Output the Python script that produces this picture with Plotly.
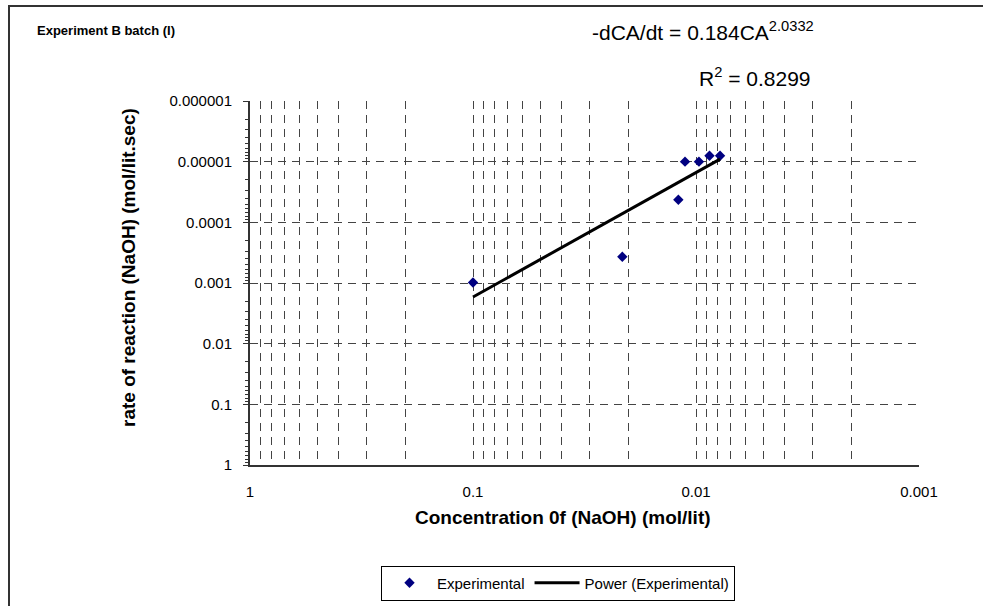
import plotly.graph_objects as go

# ---- data ----
conc = [0.1, 0.0214, 0.0120, 0.0112, 0.0097, 0.0087, 0.0078]
rate = [0.00098, 0.00037, 0.0000424, 0.0000100, 0.0000100, 0.0000080, 0.0000080]
fit_conc = [0.1, 0.0078]
fit_rate = [0.0017, 0.0000091]

x_tickvals = [1, 0.1, 0.01, 0.001]
x_ticktext = ["1", "0.1", "0.01", "0.001"]
y_tickvals = [1, 0.1, 0.01, 0.001, 0.0001, 0.00001, 0.000001]
y_ticktext = ["1", "0.1", "0.01", "0.001", "0.0001", "0.00001", "0.000001"]

W, H = 983, 606
L, R, T, B = 250, 919, 101, 465


def px(x):
    return (x - L) / (R - L)


def py(y):
    return (B - y) / (B - T)


FONT = "Liberation Sans, Arial, sans-serif"
GRID = "#444444"

fig = go.Figure()
fig.add_trace(go.Scatter(
    x=conc, y=rate, mode="markers", name="Experimental",
    marker=dict(symbol="diamond", size=8, color="#000080"),
))
fig.add_trace(go.Scatter(
    x=fit_conc, y=fit_rate, mode="lines", name="Power (Experimental)",
    line=dict(color="black", width=3),
))

fig.update_layout(
    width=W, height=H,
    margin=dict(l=L, r=W - R, t=T, b=H - B, autoexpand=False),
    paper_bgcolor="white", plot_bgcolor="white",
    font=dict(family=FONT, color="black"),
    showlegend=True,
    legend=dict(
        orientation="h", xref="container", yref="container",
        x=558 / W, y=(H - 583) / H, xanchor="center", yanchor="middle",
        bordercolor="black", borderwidth=1, font=dict(size=15, family=FONT),
        itemwidth=45, tracegroupgap=0,
    ),
    xaxis=dict(
        type="log", range=[0, -3], tickvals=x_tickvals, ticktext=x_ticktext,
        tickfont=dict(size=15), showline=True, linecolor="#333333", linewidth=2,
        showgrid=True, gridcolor=GRID, griddash="8px,6px", gridwidth=1,
        minor=dict(dtick="D1", showgrid=True, gridcolor=GRID, griddash="8px,6px", gridwidth=1),
        ticks="", zeroline=False, ticklabelstandoff=12, automargin=False,
    ),
    yaxis=dict(
        type="log", range=[0, -6], tickvals=y_tickvals, ticktext=y_ticktext,
        tickfont=dict(size=15), showline=True, linecolor="#333333", linewidth=2,
        showgrid=True, gridcolor=GRID, griddash="8px,6px", gridwidth=1,
        ticks="outside", ticklen=5, tickcolor="#333333",
        minor=dict(dtick="D1", ticks="outside", ticklen=3, tickcolor="#333333", showgrid=False),
        zeroline=False, ticklabelstandoff=8, automargin=False,
    ),
    shapes=[
        dict(type="rect", xref="paper", yref="paper",
             x0=px(9), x1=px(1200), y0=py(900), y1=py(6),
             line=dict(color="#333333", width=2), fillcolor="rgba(0,0,0,0)", layer="below"),
    ],
    annotations=[
        dict(text="<b>Experiment B batch (I)</b>", xref="paper", yref="paper",
             x=px(35), y=py(30), xanchor="left", yanchor="middle", showarrow=False,
             font=dict(size=13, family=FONT)),
        dict(text="-dCA/dt = 0.184CA<sup>2.0332</sup>", xref="paper", yref="paper",
             x=px(590), y=py(31), xanchor="left", yanchor="middle", showarrow=False,
             font=dict(size=21, family=FONT)),
        dict(text="R<sup>2</sup> = 0.8299", xref="paper", yref="paper",
             x=px(697), y=py(77), xanchor="left", yanchor="middle", showarrow=False,
             font=dict(size=21, family=FONT)),
        dict(text="<b>rate of reaction (NaOH) (mol/lit.sec)</b>", xref="paper", yref="paper",
             x=px(128), y=py(268), xanchor="center", yanchor="middle", showarrow=False,
             textangle=-90, font=dict(size=19, family=FONT)),
        dict(text="<b>Concentration 0f (NaOH) (mol/lit)</b>", xref="paper", yref="paper",
             x=px(563), y=py(517), xanchor="center", yanchor="middle", showarrow=False,
             font=dict(size=19, family=FONT)),
    ],
)

fig.write_html("out.html")
